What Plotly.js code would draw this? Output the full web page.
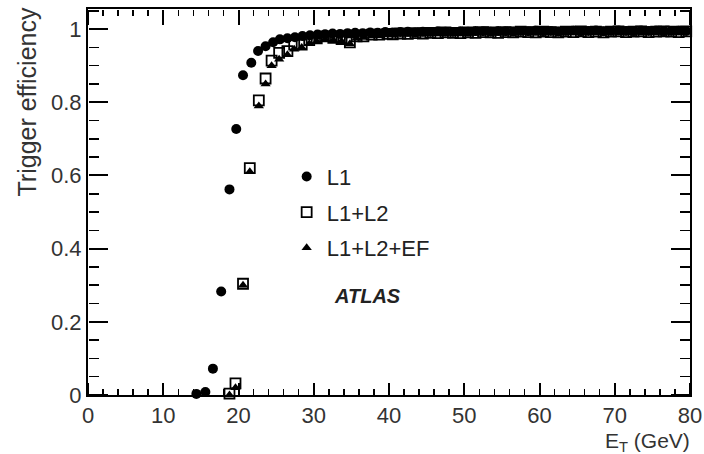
<!DOCTYPE html>
<html>
<head>
<meta charset="utf-8">
<script src="https://cdn.plot.ly/plotly-3.0.1.min.js"></script>
<style>html,body{margin:0;padding:0;background:#fff;}#chart{width:704px;height:454px;}</style>
</head>
<body>
<div id="chart"></div>
<script>
// Series: L1 (filled circles)
const l1X = [14.4,15.6,16.6,17.7,18.8,19.7,20.6,21.7,22.6,23.6,24.6,25.5,26.5,27.5,28.5,29.5,
  30.5,31.5,32.5,33.5,34.5,35.5,36.5,37.5,38.5,39.5,40.5,41.5,42.5,43.5,44.5,45.5,46.5,47.5,48.5,49.5,
  50.5,51.5,52.5,53.5,54.5,55.5,56.5,57.5,58.5,59.5,60.5,61.5,62.5,63.5,64.5,65.5,66.5,67.5,68.5,69.5,
  70.5,71.5,72.5,73.5,74.5,75.5,76.5,77.5,78.5,79.5];
const l1Y = [0.003,0.008,0.072,0.283,0.562,0.727,0.874,0.908,0.94,0.953,
  0.964,0.972,0.975,0.978,0.981,0.983,0.985,0.986,0.988,0.987,
  0.989,0.99,0.989,0.991,0.99,0.992,0.991,0.992,0.993,0.991,
  0.993,0.992,0.994,0.993,0.992,0.994,0.993,0.995,0.994,0.993,
  0.995,0.994,0.993,0.995,0.994,0.996,0.994,0.995,0.993,0.995,
  0.996,0.994,0.995,0.996,0.994,0.995,0.996,0.995,0.994,0.996,
  0.995,0.996,0.994,0.995,0.996,0.995];

// Series: L1+L2 (open squares)
const l12X = [18.8,19.6,20.6,21.5,22.7,23.6,24.4,25.4,26.5,27.4,28.4,29.4,30.4,31.5,32.6,33.7,34.8,35.7,36.6,37.7,38.7,39.8,
  40.5,41.5,42.5,43.5,44.5,45.5,46.5,47.5,48.5,49.5,50.5,51.5,52.5,53.5,54.5,55.5,56.5,57.5,58.5,59.5,
  60.5,61.5,62.5,63.5,64.5,65.5,66.5,67.5,68.5,69.5,70.5,71.5,72.5,73.5,74.5,75.5,76.5,77.5,78.5,79.5];
const l12Y = [0.004,0.032,0.304,0.62,0.805,0.865,0.914,0.935,0.94,0.958,
  0.958,0.97,0.975,0.98,0.976,0.973,0.964,0.98,0.98,0.985,
  0.985,0.987,
  0.986,0.988,0.987,0.989,0.988,0.99,0.989,0.991,0.99,0.989,
  0.991,0.99,0.992,0.991,0.99,0.992,0.991,0.993,0.992,0.991,
  0.993,0.992,0.991,0.993,0.992,0.994,0.992,0.993,0.991,0.993,
  0.994,0.992,0.993,0.994,0.992,0.993,0.994,0.993,0.992,0.994];

// Series: L1+L2+EF (filled triangles)
const l12efX = [18.8,19.6,20.6,21.5,22.7,23.6,24.4,25.4,26.5,27.4,28.4,29.4,30.4,31.5,32.6,33.7,34.8,35.7,36.6,37.7,38.7,39.8,
  40.5,41.5,42.5,43.5,44.5,45.5,46.5,47.5,48.5,49.5,50.5,51.5,52.5,53.5,54.5,55.5,56.5,57.5,58.5,59.5,
  60.5,61.5,62.5,63.5,64.5,65.5,66.5,67.5,68.5,69.5,70.5,71.5,72.5,73.5,74.5,75.5,76.5,77.5,78.5,79.5];
const l12efY = [0.0,0.02,0.3,0.61,0.79,0.85,0.9,0.918,0.93,0.945,
  0.95,0.96,0.966,0.972,0.97,0.967,0.96,0.975,0.977,0.981,
  0.982,0.984,
  0.984,0.986,0.985,0.987,0.986,0.988,0.987,0.989,0.988,0.987,
  0.989,0.988,0.99,0.989,0.988,0.99,0.989,0.991,0.99,0.989,
  0.991,0.99,0.989,0.991,0.99,0.992,0.99,0.991,0.989,0.991,
  0.992,0.99,0.991,0.992,0.99,0.991,0.992,0.991,0.99,0.992];

const seriesNames = ["L1", "L1+L2", "L1+L2+EF"];
const xRange = [0, 80];
const yRange = [0, 1.055];

const FONT = "Liberation Sans, Arial, Helvetica, sans-serif";

const traces = [
  {x: l1X, y: l1Y, name: seriesNames[0], legendgroup: "a", legendrank: 1, type: "scatter", mode: "markers",
   cliponaxis: false, marker: {symbol: "circle", size: 10, color: "#000"}},
  {x: l12efX, y: l12efY, name: seriesNames[2], legendgroup: "c", legendrank: 3, type: "scatter", mode: "markers",
   xaxis: "x2", yaxis: "y2",
   cliponaxis: false, marker: {symbol: "triangle-up", size: 9, color: "#000"}},
  {x: l12X, y: l12Y, name: seriesNames[1], legendgroup: "b", legendrank: 2, type: "scatter", mode: "markers",
   xaxis: "x3", yaxis: "y3",
   cliponaxis: false, marker: {symbol: "square-open", size: 10, color: "#000", line: {width: 1.8, color: "#000"}}}
];

const tickAxisX = (pos, side) => ({
  range: xRange, overlaying: "x", anchor: "free", position: pos, side: side,
  tickmode: "linear", tick0: 0, dtick: 10, ticks: "outside", ticklen: side === "top" ? 12 : 15, tickwidth: 2, tickcolor: "#000",
  minor: {dtick: 2, ticks: "outside", ticklen: 6, tickwidth: 1.5, tickcolor: "#000"},
  showticklabels: false, showline: false, showgrid: false, zeroline: false
});
const tickAxisY = (pos, side) => ({
  range: yRange, overlaying: "y", anchor: "free", position: pos, side: side,
  tickmode: "linear", tick0: 0, dtick: 0.2, ticks: "outside", ticklen: 19, tickwidth: 2, tickcolor: "#000",
  minor: {dtick: 0.05, ticks: "outside", ticklen: 10, tickwidth: 1.5, tickcolor: "#000"},
  showticklabels: false, showline: false, showgrid: false, zeroline: false
});

const layout = {
  width: 704, height: 454,
  margin: {l: 88, r: 14, t: 9, b: 59},
  paper_bgcolor: "#ffffff", plot_bgcolor: "#ffffff",
  font: {family: FONT, color: "#222"},
  showlegend: true,
  legend: {x: 0.33, y: 0.62, xanchor: "left", yanchor: "top", bgcolor: "rgba(0,0,0,0)",
    font: {family: FONT, size: 22, color: "#222"}, itemwidth: 30, tracegroupgap: 4,
    traceorder: "grouped"},
  xaxis: {range: xRange, tickmode: "linear", tick0: 0, dtick: 10, ticks: "",
    showline: true, linecolor: "#000", linewidth: 2, mirror: true,
    showgrid: false, zeroline: false,
    tickfont: {family: FONT, size: 22, color: "#333"}},
  yaxis: {range: yRange, tickmode: "linear", tick0: 0, dtick: 0.2, ticks: "",
    showline: true, linecolor: "#000", linewidth: 2, mirror: true,
    showgrid: false, zeroline: false,
    tickfont: {family: FONT, size: 22, color: "#333"}},
  xaxis2: tickAxisX(0, "top"),
  xaxis3: tickAxisX(1, "bottom"),
  yaxis2: tickAxisY(0, "right"),
  yaxis3: tickAxisY(1, "left"),
  annotations: [
    {text: "Trigger efficiency", textangle: -90, xref: "paper", yref: "paper", x: 0, y: 1,
     xanchor: "center", yanchor: "top", xshift: -62, yshift: 3, showarrow: false,
     font: {family: FONT, size: 25, color: "#333"}},
    {text: "E<sub>T</sub> (GeV)", xref: "paper", yref: "paper", x: 1, y: -0.121,
     xanchor: "right", yanchor: "middle", xshift: 2, showarrow: false,
     font: {family: FONT, size: 21, color: "#333"}},
    {text: "<b><i>ATLAS</i></b>", xref: "paper", yref: "paper", x: 0.4635, y: 0.2565,
     xanchor: "center", yanchor: "middle", showarrow: false,
     font: {family: FONT, size: 20, color: "#222"}}
  ]
};

Plotly.newPlot("chart", traces, layout, {displayModeBar: false, staticPlot: true});
</script>
</body>
</html>
